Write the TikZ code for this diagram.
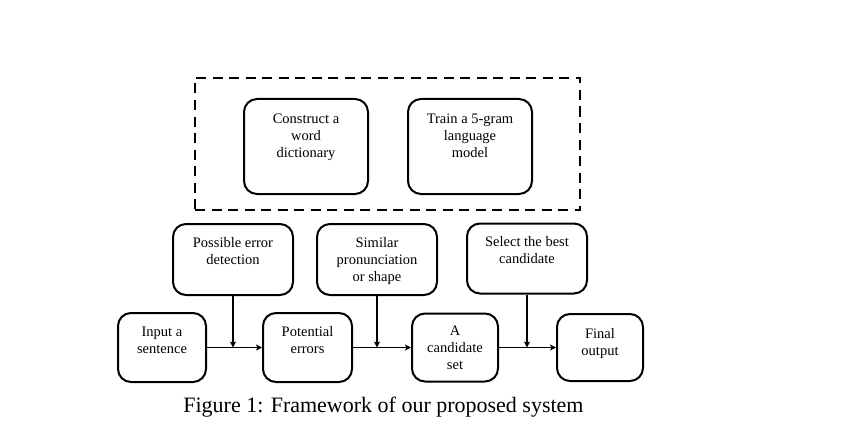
\documentclass[tikz,border=0pt]{standalone}
\usepackage{fontspec}
\setmainfont{Liberation Serif}
\usetikzlibrary{arrows.meta}
\begin{document}
\begin{tikzpicture}[x=1pt,y=-1pt,
  box/.style={draw, line width=2pt, rounded corners=13pt, inner sep=0pt},
  txt/.style={inner sep=0pt, align=center, anchor=north, font=\fontsize{14.5}{17}\selectfont},
  arr/.style={line width=1.8pt, -{Stealth[length=6pt,width=6pt,inset=1.5pt]}},
  dashbox/.style={draw, line width=2.2pt, dash pattern=on 10pt off 6.5pt}
]
\useasboundingbox (0,0) rectangle (844,428);
% dashed group
\node[dashbox, minimum width=385pt, minimum height=132pt, inner sep=0pt] (grp) at (387.5,144) {};
% top boxes
\node[box, minimum width=124pt, minimum height=95pt] (cons) at (306,146.5) {};
\node[txt] (cons-t) at (306,114) {Construct a\\word\\dictionary};
\node[box, minimum width=124pt, minimum height=95pt] (train) at (470,146.5) {};
\node[txt] (train-t) at (470,114) {Train a 5-gram\\language\\model};
% middle boxes
\node[box, minimum width=120pt, minimum height=71pt] (pe) at (233,259.5) {};
\node[txt] (pe-t) at (233,237) {Possible error\\detection};
\node[box, minimum width=120pt, minimum height=71pt] (sim) at (377,259.5) {};
\node[txt] (sim-t) at (377,237) {Similar\\pronunciation\\or shape};
\node[box, minimum width=120pt, minimum height=70pt] (sel) at (527,258.5) {};
\node[txt] (sel-t) at (527,236) {Select the best\\candidate};
% bottom boxes
\node[box, minimum width=88pt, minimum height=69pt] (in) at (162,347.5) {};
\node[txt] (in-t) at (162,327) {Input a\\sentence};
\node[box, minimum width=89pt, minimum height=69pt] (pot) at (307.5,347.5) {};
\node[txt] (pot-t) at (307.5,326) {Potential\\errors};
\node[box, minimum width=86pt, minimum height=68pt] (cand) at (455,347.5) {};
\node[txt] (cand-t) at (455,326) {A\\candidate\\set};
\node[box, minimum width=86pt, minimum height=67pt] (fin) at (600,347.5) {};
\node[txt] (fin-t) at (600,328) {Final\\output};
% junctions
\coordinate (j1) at (pe.south |- in.east);
\coordinate (j2) at (sim.south |- in.east);
\coordinate (j3) at (sel.south |- in.east);
% connectors
\draw[arr] (in.east) -- (pot.west);
\draw[arr] (pot.east) -- (cand.west);
\draw[arr] (cand.east) -- (fin.west);
\draw[arr] (pe.south) -- (j1);
\draw[arr] (sim.south) -- (j2);
\draw[arr] (sel.south) -- (j3);
% caption
\node[inner sep=0pt, anchor=base, font=\fontsize{22}{26}\selectfont] (cap) at (383.5,412.5) {Figure 1: Framework of our proposed system};
\end{tikzpicture}
\end{document}
